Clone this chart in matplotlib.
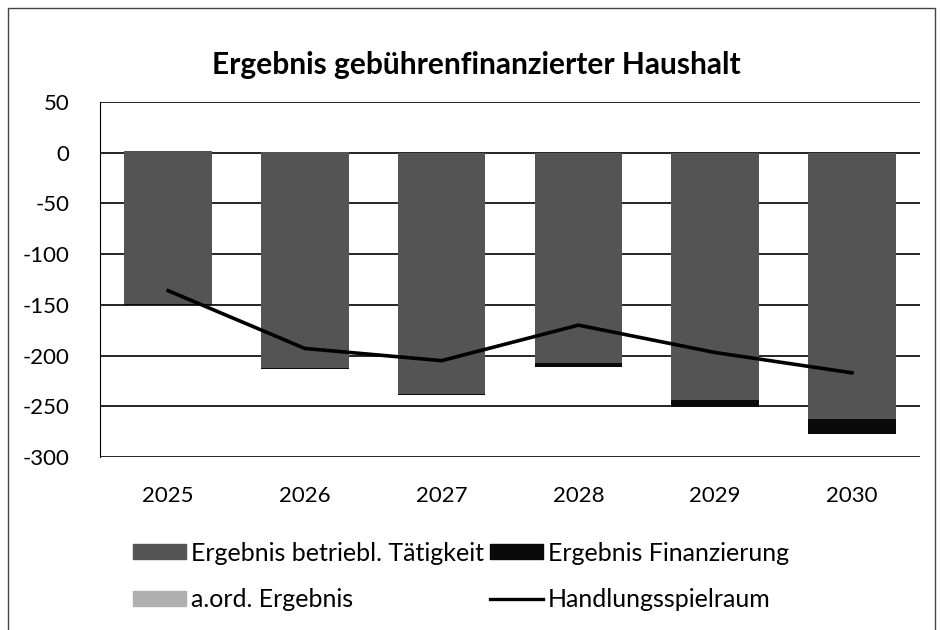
import matplotlib
matplotlib.use("Agg")
import matplotlib.pyplot as plt
from matplotlib.patches import Rectangle
from matplotlib.lines import Line2D
from matplotlib.ticker import FuncFormatter
import numpy as np

plt.rcParams['font.family'] = ['Lato', 'DejaVu Sans']

jahre = ['2025', '2026', '2027', '2028', '2029', '2030']
betrieb = [-149, -212, -238, -207, -244, -263]
finanzierung = [-1, -1, -1, -4, -7, -14]
ao_ergebnis = [2, 1, 0, 0, 0, 0]
spielraum = [-136, -193, -205, -170, -197, -217]

fig = plt.figure(figsize=(9.41, 6.3), dpi=100)
ax = fig.add_axes([0.106, 0.2746, 0.872, 0.5635])

x = np.arange(len(jahre))
breite = 0.64

ax.bar(x, betrieb, breite, color='#545454', zorder=2)
ax.bar(x, finanzierung, breite, bottom=betrieb, color='#0a0a0a', zorder=2)
ax.bar(x, ao_ergebnis, breite, color='#545454', zorder=2)
ax.plot(x, spielraum, color='black', linewidth=2.6, zorder=3)

# Rahmen aussen
fig.patches.append(Rectangle((0.009, -0.01), 0.985, 0.997, transform=fig.transFigure,
                             fill=False, edgecolor='#444444', linewidth=1.0))

ax.set_xlim(-0.5, len(jahre) - 0.5)
ax.set_ylim(-300, 50)
ax.set_yticks(np.arange(-300, 51, 50))
ax.yaxis.set_major_formatter(FuncFormatter(lambda v, p: '%d' % v))
ax.set_xticks(x)
ax.set_xticklabels(jahre)
ax.yaxis.grid(True, color='black', linewidth=1.2, zorder=1)
ax.set_axisbelow(True)
for s in ['top', 'right', 'bottom']:
    ax.spines[s].set_visible(False)
ax.spines['left'].set_color('black')
ax.tick_params(axis='both', length=0, labelsize=16, colors='black')
ax.tick_params(axis='x', pad=21)
ax.tick_params(axis='y', pad=22)

fig.text(0.506, 0.897, 'Ergebnis gebührenfinanzierter Haushalt', fontsize=21.5,
         fontweight='bold', ha='center', va='center')

handles = [
    Rectangle((0, 0), 1, 1, color='#545454'),
    Rectangle((0, 0), 1, 1, color='#b0b0b0'),
    Rectangle((0, 0), 1, 1, color='#0a0a0a'),
    Line2D([0], [0], color='black', linewidth=2.4),
]
labels = ['Ergebnis betriebl. Tätigkeit', 'a.ord. Ergebnis',
          'Ergebnis Finanzierung', 'Handlungsspielraum']
fig.legend(handles, labels, loc='center', bbox_to_anchor=(0.49, 0.085), ncol=2,
           frameon=False, fontsize=18, handlelength=2.1, handleheight=0.55,
           handletextpad=0.2, columnspacing=0.25, labelspacing=0.95, borderaxespad=0)

fig.savefig('out.png', dpi=100)
